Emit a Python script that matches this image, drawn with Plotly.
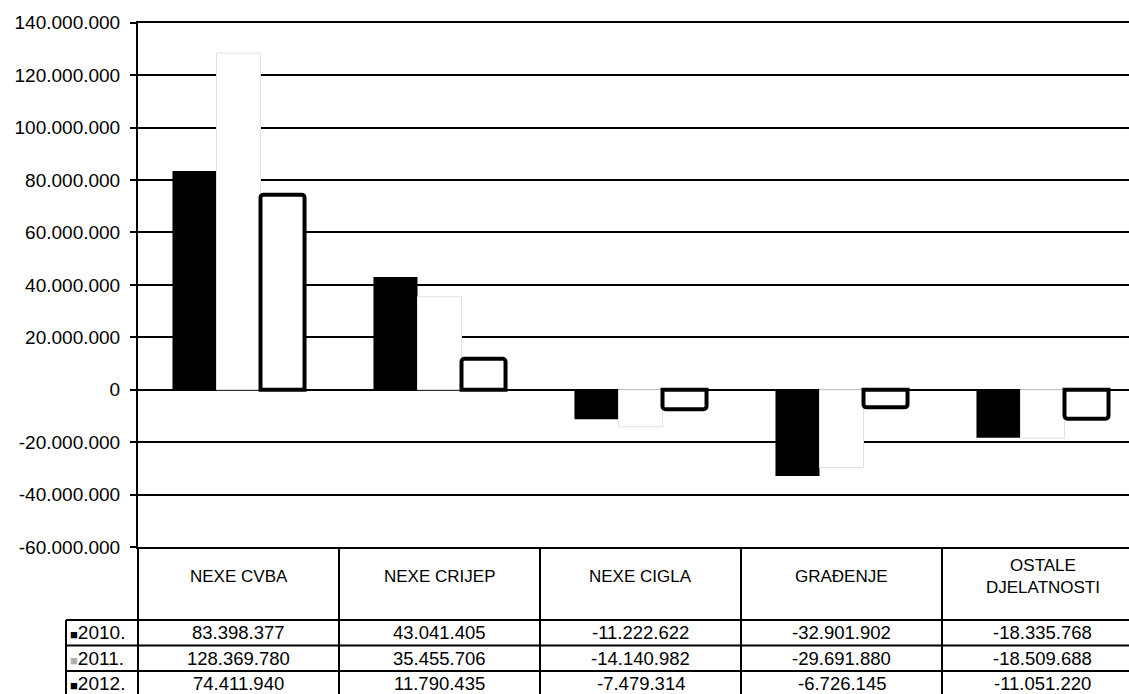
import plotly.graph_objects as go

# ---- data ----
categories = ["NEXE CVBA", "NEXE CRIJEP", "NEXE CIGLA", "GRAĐENJE", "OSTALE<br>DJELATNOSTI"]
series_names = ["2010.", "2011.", "2012."]
values_2010 = [83398377, 43041405, -11222622, -32901902, -18335768]
values_2011 = [128369780, 35455706, -14140982, -29691880, -18509688]
values_2012 = [74411940, 11790435, -7479314, -6726145, -11051220]
y_ticks = [-60000000, -40000000, -20000000, 0, 20000000, 40000000,
           60000000, 80000000, 100000000, 120000000, 140000000]


def fmt(v):
    s = f"{abs(v):,}".replace(",", ".")
    return ("-" if v < 0 else "") + s


W, H = 1129, 694


def py(y):
    return 1 - y / H


def px(x):
    return x / W


AX_X = 138
PLOT_TOP, PLOT_BOT = 22.7, 547
HEADER_BOT = 620
ROW_H = 25.5
CAT_W = 201
FONT = "Liberation Sans, Arial, sans-serif"

fig = go.Figure()
fig.add_trace(go.Bar(x=categories, y=values_2010, name=series_names[0],
                     marker=dict(color="black", line=dict(color="black", width=0))))
fig.add_trace(go.Bar(x=categories, y=values_2011, name=series_names[1],
                     marker=dict(color="white", line=dict(color="#e2e2e2", width=1))))
fig.add_trace(go.Bar(x=categories, y=values_2012, name=series_names[2],
                     marker=dict(color="white", line=dict(color="black", width=4),
                                 cornerradius=3)))

plot_w = W - AX_X
fig.update_layout(
    width=W, height=H,
    margin=dict(l=0, r=0, t=0, b=0, autoexpand=False),
    paper_bgcolor="white", plot_bgcolor="white",
    barmode="group", bargap=0.343, bargroupgap=0,
    showlegend=False,
    font=dict(family=FONT, color="black"),
    xaxis=dict(domain=[px(AX_X), 1], range=[-0.5, -0.5 + plot_w / CAT_W],
               showticklabels=False, showgrid=False, zeroline=False,
               showline=True, linecolor="black", linewidth=2, mirror=True,
               ticks="", automargin=False),
    yaxis=dict(domain=[py(PLOT_BOT), py(PLOT_TOP)], range=[-60000000, 140000000],
               tickvals=y_ticks, ticktext=[fmt(v) for v in y_ticks],
               tickfont=dict(size=19, family=FONT, color="black"),
               ticks="outside", ticklen=6, tickwidth=2, tickcolor="black",
               ticklabelstandoff=6, automargin=False,
               showgrid=True, gridcolor="black", gridwidth=2,
               zeroline=True, zerolinecolor="black", zerolinewidth=2,
               showline=True, linecolor="black", linewidth=2),
)

shapes = []
# axis line continuing through the table
shapes.append(dict(type="line", xref="paper", yref="paper",
                   x0=px(AX_X), x1=px(AX_X), y0=0, y1=py(PLOT_BOT),
                   line=dict(color="black", width=2)))
# column boundaries
for k in range(len(categories) - 1):
    shapes.append(dict(type="line", xref="x", yref="paper",
                       x0=k + 0.5, x1=k + 0.5, y0=0, y1=py(PLOT_BOT),
                       line=dict(color="black", width=2)))
# row lines
LEG_X = 66
for r in range(len(series_names)):
    yy = HEADER_BOT + r * ROW_H
    shapes.append(dict(type="line", xref="paper", yref="paper",
                       x0=px(LEG_X), x1=1, y0=py(yy), y1=py(yy),
                       line=dict(color="black", width=2)))
# legend column left border
shapes.append(dict(type="line", xref="paper", yref="paper",
                   x0=px(LEG_X), x1=px(LEG_X), y0=0, y1=py(HEADER_BOT),
                   line=dict(color="black", width=2)))
fig.update_layout(shapes=shapes)

ann = []
for c in categories:
    ann.append(dict(x=c, xref="x", y=py(576), yref="paper",
                    text=c, showarrow=False, font=dict(size=17, family=FONT, color="black"),
                    xanchor="center", yanchor="middle"))
key_colors = ["black", "#b0b0b0", "black"]
for r, (name, vals) in enumerate(zip(series_names, [values_2010, values_2011, values_2012])):
    yc = HEADER_BOT + r * ROW_H + ROW_H / 2
    for c, v in zip(categories, vals):
        ann.append(dict(x=c, xref="x", y=py(yc), yref="paper", text=fmt(v),
                        showarrow=False, font=dict(size=18.5, family=FONT, color="black"),
                        xanchor="center", yanchor="middle"))
    ann.append(dict(x=px(LEG_X + 2), xref="paper", y=py(yc), yref="paper",
                    text=f"<span style='color:{key_colors[r]};font-size:13px'>■</span>{name}",
                    showarrow=False, font=dict(size=19, family=FONT, color="black"),
                    xanchor="left", yanchor="middle"))
fig.update_layout(annotations=ann)

fig.write_html("out.html", config={"displayModeBar": False},
               post_script="document.body.style.margin='0';document.body.style.overflow='hidden';")
